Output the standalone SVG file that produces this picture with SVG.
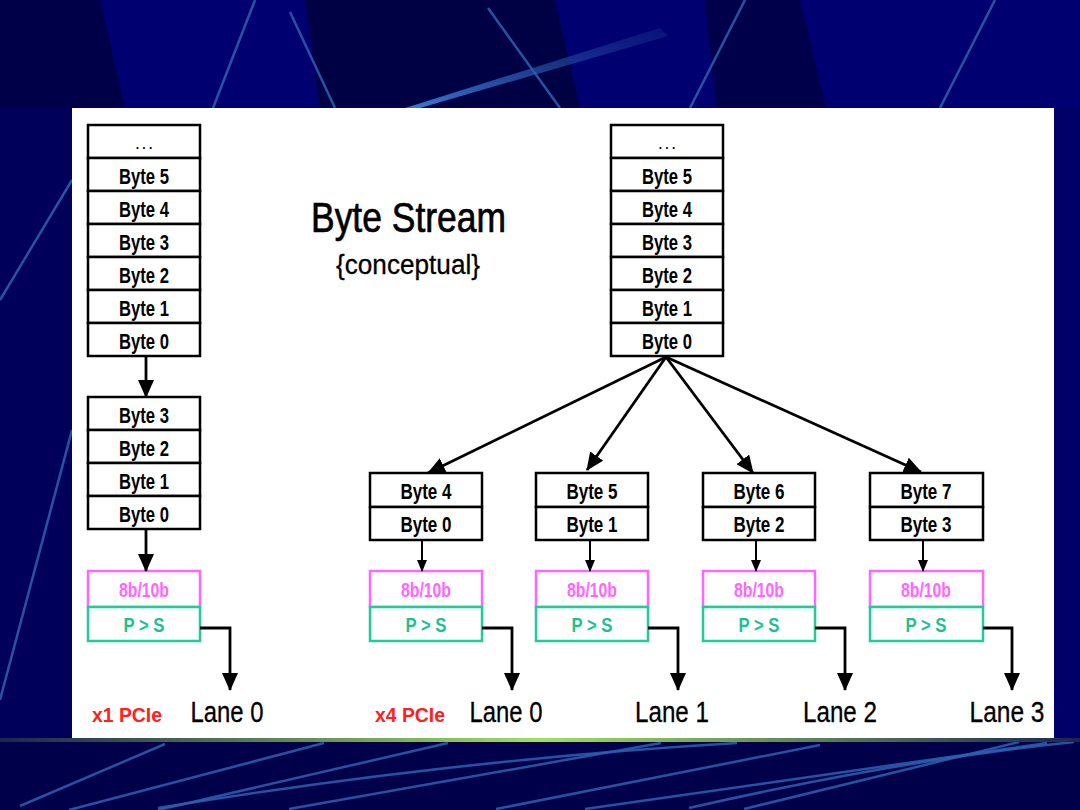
<svg xmlns="http://www.w3.org/2000/svg" width="1080" height="810" viewBox="0 0 1080 810">
<defs>
<style>
.box{fill:#fff;stroke:#000;stroke-width:2.5}
.enc{fill:#fff;stroke:#ff66ff;stroke-width:2.5}
.ps{fill:#fff;stroke:#22cc99;stroke-width:2.5}
.bt{font-family:"Liberation Sans",Arial,sans-serif;font-weight:bold;font-size:22px;fill:#000;text-anchor:middle}
.dots{font-family:"Liberation Sans",Arial,sans-serif;font-weight:bold;font-size:12px;fill:#000;text-anchor:middle}
.et{font-family:"Liberation Sans",Arial,sans-serif;font-weight:bold;font-size:21px;fill:#ff66ff;text-anchor:middle}
.pt{font-family:"Liberation Sans",Arial,sans-serif;font-weight:bold;font-size:21px;fill:#1fbf8f;text-anchor:middle}
.lane{font-family:"Liberation Sans",Arial,sans-serif;font-size:30px;fill:#000;text-anchor:middle;stroke:#000;stroke-width:0.3}
.pcie{font-family:"Liberation Sans",Arial,sans-serif;font-weight:bold;font-size:20px;fill:#ff2020}
.conn{fill:none;stroke:#000;stroke-width:2.8}
.thin{fill:none;stroke:#000;stroke-width:2}
.bgl{fill:none;stroke:#2d62b0;stroke-width:2.5;opacity:.85}
</style>
<marker id="ah" viewBox="0 0 18 16" refX="17" refY="8" markerWidth="18" markerHeight="16" markerUnits="userSpaceOnUse" orient="auto"><path d="M0,0 L18,8 L0,16 z" fill="#000"/></marker>
<marker id="ahs" viewBox="0 0 12 10" refX="11" refY="5" markerWidth="12" markerHeight="10" markerUnits="userSpaceOnUse" orient="auto"><path d="M0,0 L12,5 L0,10 z" fill="#000"/></marker>
<linearGradient id="gl" x1="0" y1="0" x2="1" y2="0"><stop offset="0" stop-color="#1a2550"/><stop offset="0.5" stop-color="#a0e060"/><stop offset="1" stop-color="#1a2550"/></linearGradient>
<linearGradient id="streak" x1="0" y1="1" x2="1" y2="0"><stop offset="0" stop-color="#3a7ad0"/><stop offset="1" stop-color="#1a3a90" stop-opacity="0.3"/></linearGradient>
</defs>

<g id="background">
<rect x="0" y="0" width="1080" height="810" fill="#000070"/>
<polygon points="0,0 100,0 125,108 0,108" fill="#000048"/>
<polygon points="305,0 555,0 580,108 320,108" fill="#000045"/>
<polygon points="705,0 800,0 826,108 716,108" fill="#00004a"/>
<line x1="255" y1="0" x2="213" y2="108" class="bgl"/>
<line x1="290" y1="12" x2="335" y2="108" class="bgl"/>
<line x1="488" y1="8" x2="560" y2="108" class="bgl"/>
<line x1="745" y1="0" x2="690" y2="108" class="bgl"/>
<line x1="995" y1="0" x2="940" y2="108" class="bgl"/>
<polygon points="660,28 668,36 420,108 405,108" fill="url(#streak)"/>
<rect x="0" y="108" width="72" height="634" fill="#00005a"/>
<rect x="1054" y="108" width="26" height="634" fill="#000068"/>
<line x1="0" y1="300" x2="72" y2="180" class="bgl" opacity=".5"/>
<line x1="0" y1="700" x2="72" y2="430" class="bgl" opacity=".4"/>
<rect x="0" y="742" width="1080" height="68" fill="#00004a"/>
<line x1="20" y1="806" x2="165" y2="744" class="bgl"/>
<line x1="69" y1="810" x2="324" y2="743" class="bgl"/>
<line x1="158" y1="810" x2="448" y2="743" class="bgl"/>
<path d="M158,808 Q450,760 737,743" class="bgl"/>
<line x1="289" y1="809" x2="661" y2="743" class="bgl"/>
<line x1="496" y1="809" x2="820" y2="745" class="bgl"/>
<line x1="585" y1="809" x2="1047" y2="743" class="bgl"/>
<path d="M689,808 Q900,760 1074,742" class="bgl"/>
<line x1="744" y1="809" x2="1019" y2="742" class="bgl"/>
<rect x="0" y="738" width="1080" height="4" fill="url(#gl)"/>
<rect x="72" y="108" width="982" height="630" fill="#fff"/>
</g>

<g id="title">
<text x="311" y="232" font-family="'Liberation Sans',Arial,sans-serif" font-size="42" textLength="195" lengthAdjust="spacingAndGlyphs" fill="#000" stroke="#000" stroke-width="0.7">Byte Stream</text>
<text x="336" y="274" font-family="'Liberation Sans',Arial,sans-serif" font-size="27" textLength="144" lengthAdjust="spacingAndGlyphs" fill="#000" stroke="#000" stroke-width="0.3">{conceptual}</text>
</g>

<g id="x1-stream">
<rect x="88" y="125" width="112" height="33" class="box"/>
<rect x="88" y="158" width="112" height="33" class="box"/>
<rect x="88" y="191" width="112" height="33" class="box"/>
<rect x="88" y="224" width="112" height="33" class="box"/>
<rect x="88" y="257" width="112" height="33" class="box"/>
<rect x="88" y="290" width="112" height="33" class="box"/>
<rect x="88" y="323" width="112" height="33" class="box"/>
<text x="144" y="149" class="dots">. . .</text>
<text x="144" y="184" class="bt" textLength="50" lengthAdjust="spacingAndGlyphs">Byte 5</text>
<text x="144" y="217" class="bt" textLength="50" lengthAdjust="spacingAndGlyphs">Byte 4</text>
<text x="144" y="250" class="bt" textLength="50" lengthAdjust="spacingAndGlyphs">Byte 3</text>
<text x="144" y="283" class="bt" textLength="50" lengthAdjust="spacingAndGlyphs">Byte 2</text>
<text x="144" y="316" class="bt" textLength="50" lengthAdjust="spacingAndGlyphs">Byte 1</text>
<text x="144" y="349" class="bt" textLength="50" lengthAdjust="spacingAndGlyphs">Byte 0</text>
</g>

<g id="x1-lane-bytes">
<rect x="88" y="397" width="112" height="33" class="box"/>
<rect x="88" y="430" width="112" height="33" class="box"/>
<rect x="88" y="463" width="112" height="33" class="box"/>
<rect x="88" y="496" width="112" height="33" class="box"/>
<text x="144" y="423" class="bt" textLength="50" lengthAdjust="spacingAndGlyphs">Byte 3</text>
<text x="144" y="456" class="bt" textLength="50" lengthAdjust="spacingAndGlyphs">Byte 2</text>
<text x="144" y="489" class="bt" textLength="50" lengthAdjust="spacingAndGlyphs">Byte 1</text>
<text x="144" y="522" class="bt" textLength="50" lengthAdjust="spacingAndGlyphs">Byte 0</text>
</g>

<g id="x1-phy">
<rect x="88" y="571" width="112" height="36" class="enc"/>
<rect x="88" y="607" width="112" height="34" class="ps"/>
<text x="144" y="597" class="et" textLength="50" lengthAdjust="spacingAndGlyphs">8b/10b</text>
<text x="144" y="632" class="pt" textLength="41" lengthAdjust="spacingAndGlyphs">P &gt; S</text>
</g>

<g id="x1-labels">
<text x="92" y="722" class="pcie" textLength="70" lengthAdjust="spacingAndGlyphs">x1 PCIe</text>
<text x="227" y="722" class="lane" textLength="73" lengthAdjust="spacingAndGlyphs">Lane 0</text>
</g>

<g id="x4-stream">
<rect x="611" y="125" width="112" height="33" class="box"/>
<rect x="611" y="158" width="112" height="33" class="box"/>
<rect x="611" y="191" width="112" height="33" class="box"/>
<rect x="611" y="224" width="112" height="33" class="box"/>
<rect x="611" y="257" width="112" height="33" class="box"/>
<rect x="611" y="290" width="112" height="33" class="box"/>
<rect x="611" y="323" width="112" height="33" class="box"/>
<text x="667" y="149" class="dots">. . .</text>
<text x="667" y="184" class="bt" textLength="50" lengthAdjust="spacingAndGlyphs">Byte 5</text>
<text x="667" y="217" class="bt" textLength="50" lengthAdjust="spacingAndGlyphs">Byte 4</text>
<text x="667" y="250" class="bt" textLength="50" lengthAdjust="spacingAndGlyphs">Byte 3</text>
<text x="667" y="283" class="bt" textLength="50" lengthAdjust="spacingAndGlyphs">Byte 2</text>
<text x="667" y="316" class="bt" textLength="50" lengthAdjust="spacingAndGlyphs">Byte 1</text>
<text x="667" y="349" class="bt" textLength="50" lengthAdjust="spacingAndGlyphs">Byte 0</text>
</g>

<g id="lane0">
<rect x="370" y="473" width="112" height="34" class="box"/>
<rect x="370" y="507" width="112" height="33" class="box"/>
<text x="426" y="499" class="bt" textLength="51" lengthAdjust="spacingAndGlyphs">Byte 4</text>
<text x="426" y="532" class="bt" textLength="51" lengthAdjust="spacingAndGlyphs">Byte 0</text>
<rect x="370" y="571" width="112" height="36" class="enc"/>
<rect x="370" y="607" width="112" height="34" class="ps"/>
<text x="426" y="597" class="et" textLength="50" lengthAdjust="spacingAndGlyphs">8b/10b</text>
<text x="426" y="632" class="pt" textLength="41" lengthAdjust="spacingAndGlyphs">P &gt; S</text>
<text x="375" y="722" class="pcie" textLength="70" lengthAdjust="spacingAndGlyphs">x4 PCIe</text>
<text x="506" y="722" class="lane" textLength="73" lengthAdjust="spacingAndGlyphs">Lane 0</text>
</g>

<g id="lane1">
<rect x="536" y="473" width="112" height="34" class="box"/>
<rect x="536" y="507" width="112" height="33" class="box"/>
<text x="592" y="499" class="bt" textLength="51" lengthAdjust="spacingAndGlyphs">Byte 5</text>
<text x="592" y="532" class="bt" textLength="51" lengthAdjust="spacingAndGlyphs">Byte 1</text>
<rect x="536" y="571" width="112" height="36" class="enc"/>
<rect x="536" y="607" width="112" height="34" class="ps"/>
<text x="592" y="597" class="et" textLength="50" lengthAdjust="spacingAndGlyphs">8b/10b</text>
<text x="592" y="632" class="pt" textLength="41" lengthAdjust="spacingAndGlyphs">P &gt; S</text>
<text x="672" y="722" class="lane" textLength="74" lengthAdjust="spacingAndGlyphs">Lane 1</text>
</g>

<g id="lane2">
<rect x="703" y="473" width="112" height="34" class="box"/>
<rect x="703" y="507" width="112" height="33" class="box"/>
<text x="759" y="499" class="bt" textLength="51" lengthAdjust="spacingAndGlyphs">Byte 6</text>
<text x="759" y="532" class="bt" textLength="51" lengthAdjust="spacingAndGlyphs">Byte 2</text>
<rect x="703" y="571" width="112" height="36" class="enc"/>
<rect x="703" y="607" width="112" height="34" class="ps"/>
<text x="759" y="597" class="et" textLength="50" lengthAdjust="spacingAndGlyphs">8b/10b</text>
<text x="759" y="632" class="pt" textLength="41" lengthAdjust="spacingAndGlyphs">P &gt; S</text>
<text x="840" y="722" class="lane" textLength="74" lengthAdjust="spacingAndGlyphs">Lane 2</text>
</g>

<g id="lane3">
<rect x="870" y="473" width="113" height="34" class="box"/>
<rect x="870" y="507" width="113" height="33" class="box"/>
<text x="926" y="499" class="bt" textLength="51" lengthAdjust="spacingAndGlyphs">Byte 7</text>
<text x="926" y="532" class="bt" textLength="51" lengthAdjust="spacingAndGlyphs">Byte 3</text>
<rect x="870" y="571" width="113" height="36" class="enc"/>
<rect x="870" y="607" width="113" height="34" class="ps"/>
<text x="926" y="597" class="et" textLength="50" lengthAdjust="spacingAndGlyphs">8b/10b</text>
<text x="926" y="632" class="pt" textLength="41" lengthAdjust="spacingAndGlyphs">P &gt; S</text>
<text x="1007" y="722" class="lane" textLength="75" lengthAdjust="spacingAndGlyphs">Lane 3</text>
</g>

<g id="connectors">
<line x1="146" y1="356" x2="146" y2="397" class="conn" marker-end="url(#ah)"/>
<line x1="146" y1="529" x2="146" y2="571" class="conn" marker-end="url(#ah)"/>
<polyline points="200,628 230,628 230,690" class="conn" marker-end="url(#ah)"/>
<line x1="666" y1="357" x2="428" y2="473" class="conn" marker-end="url(#ah)"/>
<line x1="666" y1="357" x2="587" y2="470" class="conn" marker-end="url(#ah)"/>
<line x1="666" y1="357" x2="753" y2="473" class="conn" marker-end="url(#ah)"/>
<line x1="666" y1="357" x2="921" y2="472" class="conn" marker-end="url(#ah)"/>
<line x1="422" y1="540" x2="422" y2="571" class="thin" marker-end="url(#ahs)"/>
<line x1="590" y1="540" x2="590" y2="571" class="thin" marker-end="url(#ahs)"/>
<line x1="756" y1="540" x2="756" y2="571" class="thin" marker-end="url(#ahs)"/>
<line x1="923" y1="540" x2="923" y2="571" class="thin" marker-end="url(#ahs)"/>
<polyline points="482,628 512,628 512,690" class="conn" marker-end="url(#ah)"/>
<polyline points="648,628 678,628 678,690" class="conn" marker-end="url(#ah)"/>
<polyline points="815,628 845,628 845,690" class="conn" marker-end="url(#ah)"/>
<polyline points="983,628 1012,628 1012,690" class="conn" marker-end="url(#ah)"/>
</g>
</svg>
